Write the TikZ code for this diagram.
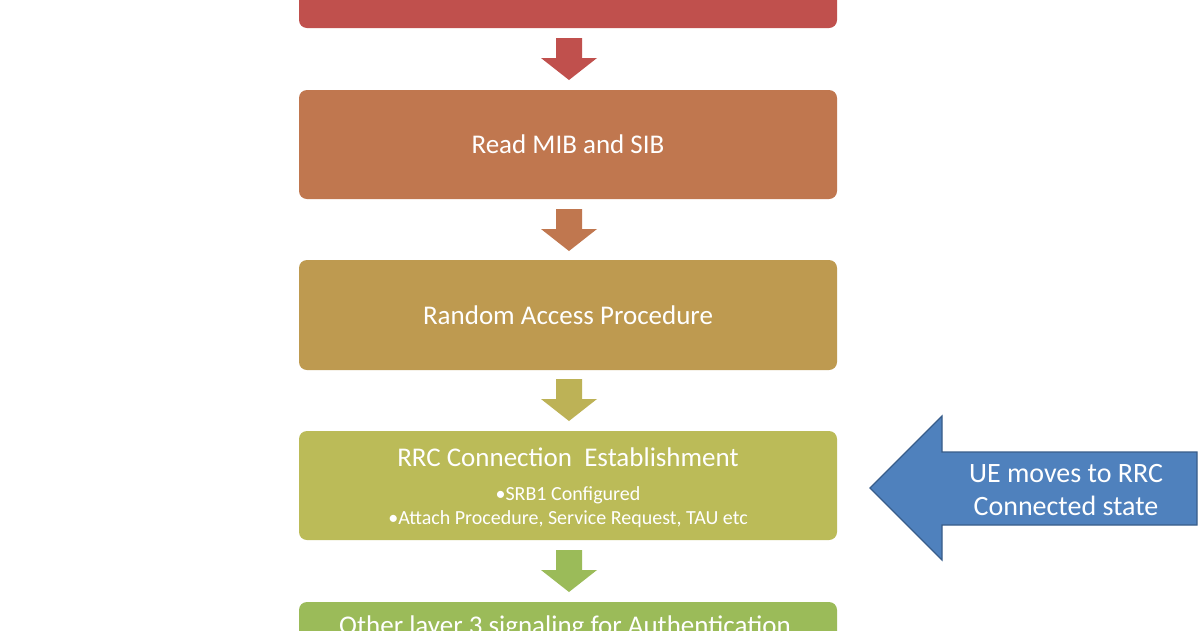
\documentclass[tikz,border=0pt]{standalone}
\usepackage{fontspec}
\setmainfont{Carlito}
\begin{document}
\begin{tikzpicture}[x=1pt,y=-1pt,
 box/.style={draw=none,rounded corners=8pt},
 txt/.style={text=white,font=\fontsize{27}{31}\selectfont},
 sub/.style={text=white,font=\fontsize{20}{24}\selectfont}]
\definecolor{c1}{HTML}{C0504D}\definecolor{c2}{HTML}{C0774F}
\definecolor{c3}{HTML}{BE9A50}\definecolor{c4}{HTML}{BBBB58}
\definecolor{c5}{HTML}{9BBB59}\definecolor{a3}{HTML}{BDB256}
\definecolor{bl}{HTML}{4F81BD}\definecolor{bld}{HTML}{385D8A}
\path[use as bounding box] (0,0) rectangle (1200,630);
\clip (0,0) rectangle (1200,630);
\fill[white] (0,0) rectangle (1200,630);
\fill[c1,box] (299,-80) rectangle (837,28);
\fill[c2,box] (299,90) rectangle (837,199);
\fill[c3,box] (299,260) rectangle (837,370);
\fill[c4,box] (299,431) rectangle (837,540);
\fill[c5,box] (299,602) rectangle (837,700);
\node[txt] (b2) at (568,144) {Read MIB and SIB};
\node[txt] (b3) at (568,315) {Random Access Procedure};
\node[txt] (b4) at (568,457) {RRC Connection\ \ Establishment};
\node[sub,align=center] (b4s) at (568,507) {•SRB1 Configured\\•Attach Procedure, Service Request, TAU etc};
\node[txt] (b5) at (565,627) {Other layer 3 signaling for Authentication};
\foreach \y/\c in {38/c1,209/c2,379/a3,550/c5}{
 \fill[\c] (556,\y) -- (582,\y) -- (582,\y+20) -- (597,\y+20) -- (569,\y+42) -- (541,\y+20) -- (556,\y+20) -- cycle;}
\draw[bld,fill=bl,line width=1.2pt] (870,488) -- (942,416) -- (942,452) -- (1197,452) -- (1197,525) -- (942,525) -- (942,560) -- cycle;
\node[txt,align=center,font=\fontsize{28}{33}\selectfont] (ue) at (1066,490) {UE moves to RRC\\Connected state};
\end{tikzpicture}
\end{document}
